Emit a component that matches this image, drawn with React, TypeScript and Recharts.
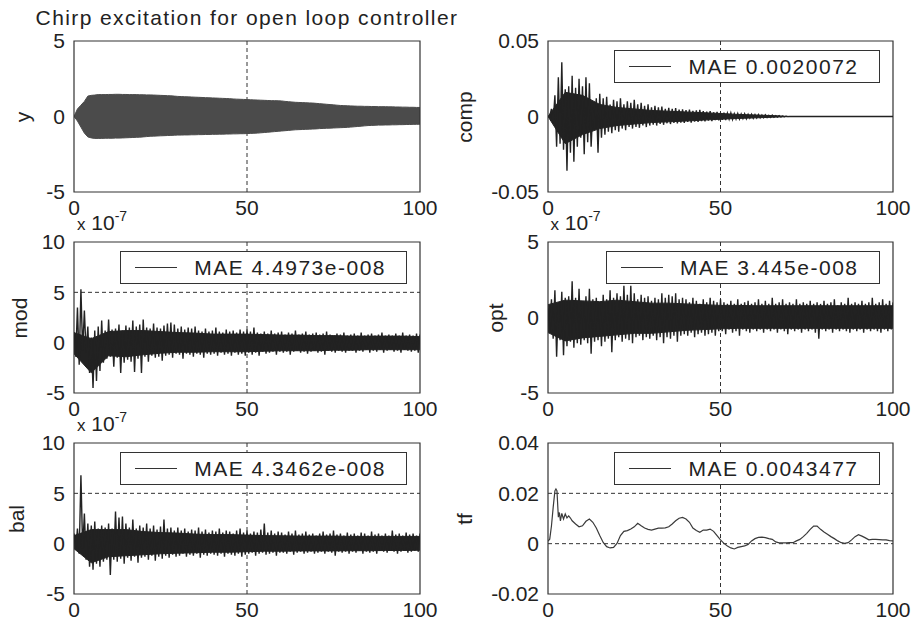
import React from "react";
import {
  ComposedChart, Area, Line, XAxis, YAxis,
  ReferenceLine, ReferenceArea,
} from "recharts";

const FONT = '"Liberation Sans", Arial, Helvetica, sans-serif';
const INK = "#222222";

// sample index 0..100
const X = [
  0, 1, 2, 3, 4, 5, 6, 7, 8, 9, 10, 11, 12, 13, 14, 15, 16, 17, 18, 19,
  20, 21, 22, 23, 24, 25, 26, 27, 28, 29, 30, 31, 32, 33, 34, 35, 36, 37, 38, 39,
  40, 41, 42, 43, 44, 45, 46, 47, 48, 49, 50, 51, 52, 53, 54, 55, 56, 57, 58, 59,
  60, 61, 62, 63, 64, 65, 66, 67, 68, 69, 70, 71, 72, 73, 74, 75, 76, 77, 78, 79,
  80, 81, 82, 83, 84, 85, 86, 87, 88, 89, 90, 91, 92, 93, 94, 95, 96, 97, 98, 99, 100,
];
// coarse grid for the solid core of the noisy traces
const CORE_X = [0, 5, 10, 15, 20, 25, 30, 35, 40, 45, 50, 55, 60, 65, 70, 75, 80, 85, 90, 95, 100];
const X_TICKS = [0, 50, 100];

// y : chirp envelope (upper / lower edge of the dense trace)
const Y_HI = [
  0, 0.5, 0.75, 1.0, 1.35, 1.4, 1.42, 1.45, 1.45, 1.45,
  1.46, 1.46, 1.47, 1.47, 1.46, 1.46, 1.45, 1.45, 1.45, 1.44,
  1.44, 1.43, 1.43, 1.42, 1.41, 1.4, 1.39, 1.38, 1.37, 1.35,
  1.33, 1.32, 1.31, 1.3, 1.29, 1.28, 1.27, 1.26, 1.25, 1.24,
  1.23, 1.22, 1.21, 1.2, 1.19, 1.18, 1.16, 1.15, 1.14, 1.13,
  1.12, 1.11, 1.1, 1.09, 1.08, 1.07, 1.06, 1.05, 1.05, 1.04,
  1.03, 1.0, 0.98, 0.96, 0.94, 0.93, 0.92, 0.91, 0.9, 0.89,
  0.87, 0.85, 0.83, 0.81, 0.79, 0.77, 0.75, 0.73, 0.72, 0.71,
  0.7, 0.69, 0.68, 0.68, 0.67, 0.67, 0.66, 0.66, 0.65, 0.65,
  0.65, 0.64, 0.64, 0.63, 0.63, 0.62, 0.62, 0.61, 0.61, 0.6, 0.6,
];
const Y_LO = [
  0, -0.3, -0.7, -1.1, -1.35, -1.42, -1.45, -1.45, -1.45, -1.44,
  -1.44, -1.44, -1.43, -1.43, -1.42, -1.41, -1.4, -1.39, -1.38, -1.37,
  -1.35, -1.33, -1.31, -1.3, -1.29, -1.28, -1.27, -1.26, -1.25, -1.24,
  -1.23, -1.23, -1.22, -1.22, -1.21, -1.21, -1.2, -1.2, -1.19, -1.19,
  -1.18, -1.18, -1.17, -1.17, -1.16, -1.16, -1.15, -1.15, -1.14, -1.14,
  -1.13, -1.12, -1.11, -1.1, -1.08, -1.06, -1.04, -1.02, -1.0, -0.98,
  -0.96, -0.94, -0.92, -0.9, -0.88, -0.87, -0.86, -0.85, -0.84, -0.83,
  -0.82, -0.8, -0.79, -0.78, -0.77, -0.76, -0.75, -0.74, -0.73, -0.72,
  -0.7, -0.68, -0.66, -0.64, -0.62, -0.6, -0.59, -0.58, -0.57, -0.57,
  -0.56, -0.56, -0.55, -0.55, -0.54, -0.54, -0.53, -0.53, -0.52, -0.52, -0.51,
];

// comp : swing tips
const COMP_HI = [
  0, 0.005, 0.014, 0.026, 0.036, 0.018, 0.02, 0.027, 0.019, 0.025,
  0.02, 0.026, 0.022, 0.006, 0.012, 0.015, 0.012, 0.013, 0.008, 0.011,
  0.01, 0.012, 0.008, 0.01, 0.009, 0.011, 0.008, 0.009, 0.007, 0.008,
  0.006, 0.007, 0.006, 0.0065, 0.005, 0.0058, 0.005, 0.0055, 0.0045, 0.0048,
  0.0042, 0.0046, 0.0038, 0.004, 0.0044, 0.0035, 0.0032, 0.0036, 0.0028, 0.003,
  0.0024, 0.0026, 0.0022, 0.0024, 0.0018, 0.002, 0.0016, 0.0018, 0.0014, 0.0015,
  0.0012, 0.0013, 0.001, 0.0011, 0.0008, 0.0009, 0.0006, 0.0005, 0.0003, 0.0002,
  0, 0, 0, 0, 0, 0, 0, 0, 0, 0,
  0, 0, 0, 0, 0, 0, 0, 0, 0, 0,
  0, 0, 0, 0, 0, 0, 0, 0, 0, 0, 0,
];
const COMP_LO = [
  0, -0.004, -0.02, -0.018, -0.022, -0.036, -0.024, -0.03, -0.02, -0.014,
  -0.025, -0.017, -0.02, -0.008, -0.024, -0.014, -0.012, -0.01, -0.011, -0.009,
  -0.01, -0.008, -0.009, -0.007, -0.008, -0.007, -0.0075, -0.006, -0.007, -0.006,
  -0.0055, -0.006, -0.005, -0.0055, -0.0045, -0.005, -0.0042, -0.0046, -0.004, -0.0042,
  -0.0036, -0.004, -0.0034, -0.0036, -0.003, -0.0033, -0.0028, -0.003, -0.0024, -0.0026,
  -0.0022, -0.0024, -0.0018, -0.002, -0.0016, -0.0017, -0.0013, -0.0015, -0.0011, -0.0012,
  -0.001, -0.0009, -0.0008, -0.0007, -0.0006, -0.0005, -0.0004, -0.0003, -0.0002, -0.0001,
  0, 0, 0, 0, 0, 0, 0, 0, 0, 0,
  0, 0, 0, 0, 0, 0, 0, 0, 0, 0,
  0, 0, 0, 0, 0, 0, 0, 0, 0, 0, 0,
];
// comp : solid core
const COMP_CORE_HI = [0, 0.016, 0.014, 0.008, 0.006, 0.005, 0.004, 0.0035, 0.003, 0.0025, 0.002, 0.0014, 0.001, 0.0006, 0, 0, 0, 0, 0, 0, 0];
const COMP_CORE_LO = [0, -0.018, -0.012, -0.008, -0.006, -0.005, -0.004, -0.0035, -0.003, -0.0024, -0.0018, -0.0013, -0.0009, -0.0005, 0, 0, 0, 0, 0, 0, 0];

// mod (x 1e-7)
const MOD_HI = [
  1.0, 3.5, 5.3, 3.2, 1.6, 0.5, 1.2, 1.6, 2.2, 1.2,
  2.3, 1.3, 1.4, 1.8, 1.2, 1.7, 1.5, 2.2, 1.6, 1.8,
  2.3, 1.5, 1.4, 1.9, 1.5, 1.4, 1.7, 1.9, 2.0, 1.8,
  1.4, 1.6, 1.3, 1.5, 1.4, 1.6, 1.2, 1.1, 1.4, 1.1,
  1.2, 1.5, 1.1, 1.0, 1.3, 1.1, 1.2, 1.0, 1.3, 1.1,
  1.3, 1.1, 1.5, 1.0, 0.9, 1.1, 0.9, 1.2, 0.9, 1.0,
  1.1, 0.8, 1.0, 0.9, 1.2, 0.8, 0.9, 1.1, 0.8, 0.9,
  1.0, 0.8, 0.9, 1.1, 0.8, 0.7, 0.9, 0.8, 1.0, 0.7,
  0.8, 0.9, 0.7, 1.0, 0.7, 0.8, 0.9, 0.7, 0.8, 1.0,
  0.7, 0.8, 0.7, 0.9, 0.7, 1.0, 0.7, 0.8, 0.7, 0.9, 0.8,
];
const MOD_LO = [
  -1.4, -2.2, -0.8, -1.0, -3.0, -4.5, -3.8, -2.8, -2.0, -1.6,
  -1.4, -2.4, -1.5, -3.0, -2.0, -1.7, -1.9, -2.9, -1.6, -3.0,
  -1.4, -1.9, -1.3, -1.5, -1.4, -1.8, -1.3, -1.2, -1.5, -1.1,
  -1.2, -1.6, -1.1, -1.2, -1.4, -1.1, -1.2, -1.5, -1.1, -1.2,
  -1.1, -1.3, -1.0, -1.2, -1.1, -1.3, -1.0, -1.2, -1.1, -1.3,
  -1.0, -1.2, -1.0, -1.3, -0.9, -1.1, -1.0, -0.9, -1.2, -0.9,
  -1.0, -0.9, -1.2, -0.9, -0.8, -1.0, -0.9, -1.1, -0.9, -0.8,
  -1.0, -0.9, -1.2, -0.8, -0.9, -1.0, -0.8, -0.9, -1.0, -0.8,
  -0.8, -1.0, -0.8, -0.9, -0.7, -1.0, -0.8, -0.9, -0.7, -1.0,
  -0.8, -0.7, -0.9, -0.8, -1.0, -0.7, -0.8, -0.9, -0.8, -1.0, -0.9,
];
const MOD_CORE_HI = [1.0, 0.4, 1.1, 1.2, 1.2, 1.1, 1.0, 0.95, 0.85, 0.85, 0.85, 0.8, 0.75, 0.75, 0.7, 0.7, 0.65, 0.65, 0.65, 0.65, 0.6];
const MOD_CORE_LO = [-1.1, -3.0, -1.3, -1.4, -1.2, -1.05, -0.95, -0.95, -0.9, -0.9, -0.9, -0.85, -0.8, -0.8, -0.8, -0.75, -0.75, -0.7, -0.7, -0.7, -0.7];

// opt (x 1e-7)
const OPT_HI = [
  0.6, 1.2, 1.8, 1.0, 1.7, 1.3, 1.4, 2.4, 1.3, 1.9,
  1.1, 1.4, 1.9, 1.2, 1.3, 1.0, 1.5, 1.2, 1.8, 1.3,
  1.6, 1.4, 2.1, 1.5, 2.1, 1.6, 1.2, 1.5, 1.3, 1.4,
  1.1, 1.3, 1.2, 1.6, 1.3, 1.5, 1.4, 1.6, 1.2, 1.3,
  1.2, 1.0, 1.3, 1.1, 0.9, 1.2, 1.0, 1.3, 1.1, 1.0,
  1.2, 1.0, 0.9, 1.1, 0.9, 1.2, 0.9, 1.0, 1.1, 0.9,
  1.0, 1.2, 0.9, 1.1, 0.9, 1.3, 0.9, 1.0, 1.2, 0.9,
  1.0, 0.9, 1.2, 0.9, 1.0, 0.9, 1.1, 0.9, 1.0, 0.9,
  1.1, 0.9, 1.0, 1.2, 0.8, 1.0, 0.9, 1.3, 0.9, 1.0,
  0.9, 1.1, 0.9, 1.0, 1.3, 0.9, 1.0, 1.2, 0.9, 1.1, 1.0,
];
const OPT_LO = [
  -1.0, -1.4, -2.6, -1.5, -2.5, -1.9, -1.6, -2.0, -1.7, -1.8,
  -1.5, -1.7, -2.4, -1.6, -1.5, -1.9, -1.6, -1.4, -2.3, -1.5,
  -1.3, -1.6, -1.4, -1.5, -1.7, -1.3, -1.2, -1.5, -1.3, -1.4,
  -1.2, -1.5, -1.3, -1.7, -1.3, -1.4, -1.2, -1.6, -1.2, -1.1,
  -1.2, -1.0, -1.3, -1.1, -1.0, -1.2, -1.1, -1.0, -1.2, -0.9,
  -0.9, -1.1, -0.8, -1.0, -0.9, -1.2, -0.8, -0.9, -1.0, -0.8,
  -0.9, -0.8, -1.0, -0.8, -0.9, -0.8, -1.0, -0.8, -0.9, -1.1,
  -0.8, -0.9, -0.8, -1.0, -0.8, -0.9, -0.8, -1.0, -1.4, -0.8,
  -0.9, -0.8, -1.0, -0.8, -0.9, -0.8, -0.9, -1.0, -0.8, -0.9,
  -0.8, -1.0, -0.8, -0.9, -0.8, -0.9, -1.0, -0.8, -0.9, -0.8, -0.9,
];
const OPT_CORE_HI = [0.85, 1.15, 1.1, 1.05, 1.15, 1.05, 0.95, 0.95, 0.9, 0.85, 0.8, 0.8, 0.78, 0.78, 0.78, 0.78, 0.78, 0.78, 0.78, 0.78, 0.78];
const OPT_CORE_LO = [-1.0, -1.55, -1.35, -1.25, -1.15, -1.05, -1.05, -0.95, -0.85, -0.8, -0.75, -0.72, -0.72, -0.72, -0.72, -0.72, -0.72, -0.72, -0.72, -0.72, -0.72];

// bal (x 1e-7)
const BAL_HI = [
  1.0, 1.5, 6.8, 3.0, 2.0, 1.8, 2.2, 1.5, 1.8, 1.6,
  2.0, 1.5, 3.2, 2.6, 2.7, 2.0, 1.6, 2.4, 1.5, 1.8,
  1.6, 2.0, 1.5, 1.8, 1.4, 1.7, 2.4, 1.5, 1.6, 1.3,
  1.6, 1.3, 1.5, 1.2, 1.4, 1.3, 1.6, 1.2, 1.4, 1.1,
  1.3, 1.2, 1.5, 1.1, 1.3, 1.2, 1.0, 1.3, 1.5, 1.1,
  1.3, 1.0, 1.2, 1.1, 1.4, 2.0, 1.1, 1.3, 1.0, 1.2,
  1.1, 0.9, 1.2, 1.0, 1.3, 0.9, 1.0, 1.2, 0.9, 1.0,
  0.8, 1.0, 1.2, 0.9, 1.0, 1.3, 0.9, 1.0, 0.8, 1.1,
  0.9, 1.0, 0.8, 1.1, 1.0, 0.8, 1.2, 0.9, 1.0, 0.8,
  1.0, 0.8, 1.3, 0.9, 1.0, 0.8, 1.1, 0.9, 1.0, 0.8, 1.0,
];
const BAL_LO = [
  -0.6, -1.0, -0.5, -1.6, -2.3, -2.6, -2.0, -2.3, -1.8, -1.6,
  -3.1, -1.6, -1.8, -1.5, -2.0, -1.4, -1.7, -1.3, -1.9, -1.4,
  -1.3, -1.6, -1.2, -1.7, -1.3, -1.5, -1.2, -1.4, -1.1, -1.3,
  -1.2, -1.0, -1.3, -1.1, -1.2, -1.0, -1.4, -1.1, -1.2, -1.0,
  -1.1, -1.2, -1.0, -1.3, -1.0, -1.1, -1.2, -1.0, -1.3, -1.1,
  -1.0, -0.9, -1.2, -1.0, -0.9, -1.1, -1.0, -0.9, -1.2, -0.9,
  -0.9, -1.0, -0.8, -1.1, -0.9, -0.8, -1.0, -0.9, -0.8, -1.0,
  -0.9, -0.8, -1.0, -0.8, -0.9, -1.2, -0.8, -0.9, -0.8, -1.0,
  -0.8, -0.9, -0.7, -1.0, -0.8, -0.9, -0.8, -1.0, -0.7, -0.8,
  -0.9, -0.7, -0.8, -1.0, -0.8, -0.7, -0.9, -0.8, -0.7, -0.8, -0.7,
];
const BAL_CORE_HI = [0.8, 1.4, 1.4, 1.4, 1.2, 1.1, 1.05, 0.95, 0.9, 0.9, 0.85, 0.8, 0.78, 0.75, 0.75, 0.75, 0.72, 0.72, 0.72, 0.72, 0.72];
const BAL_CORE_LO = [-0.5, -1.9, -1.3, -1.2, -1.1, -1.0, -0.95, -0.9, -0.85, -0.85, -0.8, -0.75, -0.75, -0.72, -0.72, -0.72, -0.7, -0.7, -0.68, -0.68, -0.65];

// tf : single trace, finer sampling at the start
const TF_X = [
  0, 0.5, 1, 1.5, 2, 2.3, 2.6, 3, 3.3, 3.6, 4, 4.5, 5, 5.5, 6, 6.5, 7,
  8, 9, 10, 11, 12, 13, 14, 15, 16, 17, 18, 19, 20,
  21, 22, 23, 24, 25, 26, 27, 28, 29, 30, 31, 32, 33, 34, 35, 36, 37, 38, 39, 40,
  41, 42, 43, 44, 45, 46, 47, 48, 49, 50, 51, 52, 53, 54, 55, 56, 57, 58, 59, 60,
  61, 62, 63, 64, 65, 66, 67, 68, 69, 70, 71, 72, 73, 74, 75, 76, 77, 78, 79, 80,
  81, 82, 83, 84, 85, 86, 87, 88, 89, 90, 91, 92, 93, 94, 95, 96, 97, 98, 99, 100,
];
const TF_Y = [
  0.001, 0.0018, 0.007, 0.0144, 0.021, 0.0217, 0.021, 0.0105, 0.0124, 0.009, 0.012, 0.0098, 0.0118, 0.0102, 0.011, 0.0102, 0.0091,
  0.0078, 0.0067, 0.0071, 0.0089, 0.0098, 0.0085, 0.0062, 0.0032, 0.0005, -0.0012, -0.0017, -0.0015, 0.0001,
  0.0032, 0.0049, 0.0052, 0.0058, 0.0067, 0.0081, 0.0071, 0.0062, 0.0057, 0.0054, 0.0058, 0.0062, 0.0062, 0.0063, 0.0067, 0.0078, 0.0091, 0.0101, 0.0104, 0.0098,
  0.0085, 0.0062, 0.0052, 0.0045, 0.0054, 0.0054, 0.0058, 0.0049, 0.0032, 0.0015, 0.0001, -0.0009, -0.0017, -0.0021, -0.0015, -0.0012, -0.0009, -0.0003, 0.0011, 0.002,
  0.0025, 0.0026, 0.0024, 0.002, 0.0017, 0.0007, 0.0003, 0.0003, 0.0003, 0.0004, 0.0004, 0.0011, 0.0017, 0.0028, 0.0041, 0.0057, 0.007, 0.007, 0.0057, 0.0046,
  0.0037, 0.0028, 0.002, 0.0011, 0.0004, 0.0001, 0.0004, 0.0015, 0.0028, 0.0036, 0.003, 0.0023, 0.0015, 0.0017, 0.0017, 0.0016, 0.0015, 0.0015, 0.0012, 0.0011,
];

type Pt = { x: number; v: number | number[] };

// filled envelope [lo, hi] on a given x grid
const band = (xs: number[], lo: number[], hi: number[]): Pt[] =>
  xs.map((x, i) => ({ x, v: [lo[i], hi[i]] }));

// noisy trace: swing up to hi[i] then down to lo[i] half a step later
const zigzag = (lo: number[], hi: number[]): Pt[] =>
  X.flatMap((x, i) => [{ x, v: hi[i] }, { x: x + 0.5, v: lo[i] }]).filter((d) => d.x <= 100);

const tfData: Pt[] = TF_X.map((x, i) => ({ x, v: TF_Y[i] }));

type PanelDef = {
  name: string;
  left: number;
  top: number;
  w: number;
  h: number;
  domain: [number, number];
  ticks: number[];
  grid: number[];
  labelX: number;
  legend?: string;
  scaled?: boolean;
  fill?: Pt[];
  trace?: Pt[];
  color: string;
  sw: number;
};

const COL_L = 74;
const COL_R = 547.5;
const PW_L = 346;
const PW_R = 345;
const ROWS = [41, 242, 443];
const PH = 151;

const PANELS: PanelDef[] = [
  { name: "y", left: COL_L, top: ROWS[0], w: PW_L, h: PH, domain: [-5, 5], ticks: [-5, 0, 5], grid: [0],
    labelX: 22, fill: band(X, Y_LO, Y_HI), color: "#4b4b4b", sw: 1 },
  { name: "comp", left: COL_R, top: ROWS[0], w: PW_R, h: PH, domain: [-0.05, 0.05], ticks: [-0.05, 0, 0.05], grid: [0],
    labelX: 464, legend: "MAE 0.0020072", fill: band(CORE_X, COMP_CORE_LO, COMP_CORE_HI),
    trace: zigzag(COMP_LO, COMP_HI), color: INK, sw: 1.4 },
  { name: "mod", left: COL_L, top: ROWS[1], w: PW_L, h: PH, domain: [-5, 10], ticks: [-5, 0, 5, 10], grid: [0, 5],
    labelX: 19, legend: "MAE 4.4973e-008", scaled: true, fill: band(CORE_X, MOD_CORE_LO, MOD_CORE_HI),
    trace: zigzag(MOD_LO, MOD_HI), color: INK, sw: 1.4 },
  { name: "opt", left: COL_R, top: ROWS[1], w: PW_R, h: PH, domain: [-5, 5], ticks: [-5, 0, 5], grid: [0],
    labelX: 495, legend: "MAE 3.445e-008", scaled: true, fill: band(CORE_X, OPT_CORE_LO, OPT_CORE_HI),
    trace: zigzag(OPT_LO, OPT_HI), color: INK, sw: 1.4 },
  { name: "bal", left: COL_L, top: ROWS[2], w: PW_L, h: PH, domain: [-5, 10], ticks: [-5, 0, 5, 10], grid: [0, 5],
    labelX: 16, legend: "MAE 4.3462e-008", scaled: true, fill: band(CORE_X, BAL_CORE_LO, BAL_CORE_HI),
    trace: zigzag(BAL_LO, BAL_HI), color: INK, sw: 1.4 },
  { name: "tf", left: COL_R, top: ROWS[2], w: PW_R, h: PH, domain: [-0.02, 0.04], ticks: [-0.02, 0, 0.02, 0.04], grid: [0, 0.02],
    labelX: 464, legend: "MAE 0.0043477", trace: tfData, color: "#3a3a3a", sw: 1.2 },
];

const tickStyle = { fontSize: 21, fill: INK, fontFamily: FONT };
const M = { top: 20, right: 30, left: 0, bottom: 0 };

function Axes({ p, showTicks }: { p: PanelDef; showTicks: boolean }) {
  return [
    <XAxis key="xa" dataKey="x" type="number" domain={[0, 100]} ticks={X_TICKS} interval={0}
      height={40} axisLine={false} tickLine={false} tickSize={0} tickMargin={8}
      tick={showTicks ? tickStyle : false} allowDataOverflow />,
    <YAxis key="ya" type="number" domain={p.domain} ticks={p.ticks} interval={0} allowDataOverflow
      width={70} axisLine={false} tickLine={false} tickSize={0} tickMargin={9}
      tick={showTicks ? tickStyle : false} />,
  ];
}

function Panel({ p }: { p: PanelDef }) {
  const width = p.w + 100;
  const height = p.h + 60;
  const pos: React.CSSProperties = { position: "absolute", left: p.left - 70, top: p.top - 20 };
  return (
    <>
      {/* back layer: dashed grid, so the traces cover it */}
      <div style={pos}>
        <ComposedChart width={width} height={height} margin={M}>
          {Axes({ p, showTicks: false })}
          <ReferenceLine x={50} stroke="#333" strokeDasharray="4 3" />
          {p.grid.map((g) => (
            <ReferenceLine key={g} y={g} stroke="#333" strokeDasharray="4 3" />
          ))}
        </ComposedChart>
      </div>
      {/* front layer: trace, box, tick labels */}
      <div style={pos}>
        <ComposedChart width={width} height={height} margin={M}>
          {Axes({ p, showTicks: true })}
          {p.fill && (
            <Area data={p.fill} dataKey="v" type="linear" fill={p.color} fillOpacity={1} stroke={p.color}
              strokeWidth={1} dot={false} activeDot={false} isAnimationActive={false} />
          )}
          {p.trace && (
            <Line data={p.trace} dataKey="v" type="linear" stroke={p.color} strokeWidth={p.sw}
              dot={false} activeDot={false} isAnimationActive={false} />
          )}
          <ReferenceArea x1={0} x2={100} y1={p.domain[0]} y2={p.domain[1]}
            fill="none" fillOpacity={0} stroke="#333" strokeWidth={1.2} />
        </ComposedChart>
      </div>
    </>
  );
}

function LegendBox({ p }: { p: PanelDef }) {
  if (!p.legend) return null;
  return (
    <div style={{
      position: "absolute", right: 915 - (p.left + p.w) + 13, top: p.top + 9, height: 33,
      border: "1px solid #333", background: "#fff", display: "flex", alignItems: "center",
      paddingLeft: 14, paddingRight: 20, boxSizing: "border-box",
    }}>
      <span style={{ display: "inline-block", width: 42, height: 0, borderTop: "1px solid #333" }} />
      <span style={{ marginLeft: 17, fontSize: 21, letterSpacing: 1.5, lineHeight: 1, whiteSpace: "nowrap" }}>
        {p.legend}
      </span>
    </div>
  );
}

export default function App() {
  return (
    <div style={{
      position: "relative", width: 915, height: 626, background: "#fff",
      overflow: "hidden", fontFamily: FONT, color: INK,
    }}>
      <style>{"body{margin:0}"}</style>
      <div style={{
        position: "absolute", left: COL_L + PW_L / 2, top: 7, transform: "translateX(-50%)",
        fontSize: 21, letterSpacing: 1.4, lineHeight: 1, whiteSpace: "nowrap",
      }}>
        Chirp excitation for open loop controller
      </div>
      {PANELS.map((p) => <Panel key={p.name} p={p} />)}
      {PANELS.map((p) => <LegendBox key={"lg" + p.name} p={p} />)}
      {PANELS.map((p) => (
        <div key={"yl" + p.name} style={{
          position: "absolute", left: p.labelX, top: p.top + p.h / 2,
          transform: "translate(-50%, -50%) rotate(-90deg)", fontSize: 21, lineHeight: 1,
          whiteSpace: "nowrap",
        }}>
          {p.name}
        </div>
      ))}
      {PANELS.filter((p) => p.scaled).map((p) => (
        <div key={"sc" + p.name} style={{
          position: "absolute", left: p.left + 3, top: p.top - 30, fontSize: 21,
          lineHeight: 1, whiteSpace: "nowrap",
        }}>
          <span style={{ fontSize: 17 }}>x</span> 10
          <span style={{ position: "relative", top: -9, fontSize: 14 }}>-7</span>
        </div>
      ))}
    </div>
  );
}
